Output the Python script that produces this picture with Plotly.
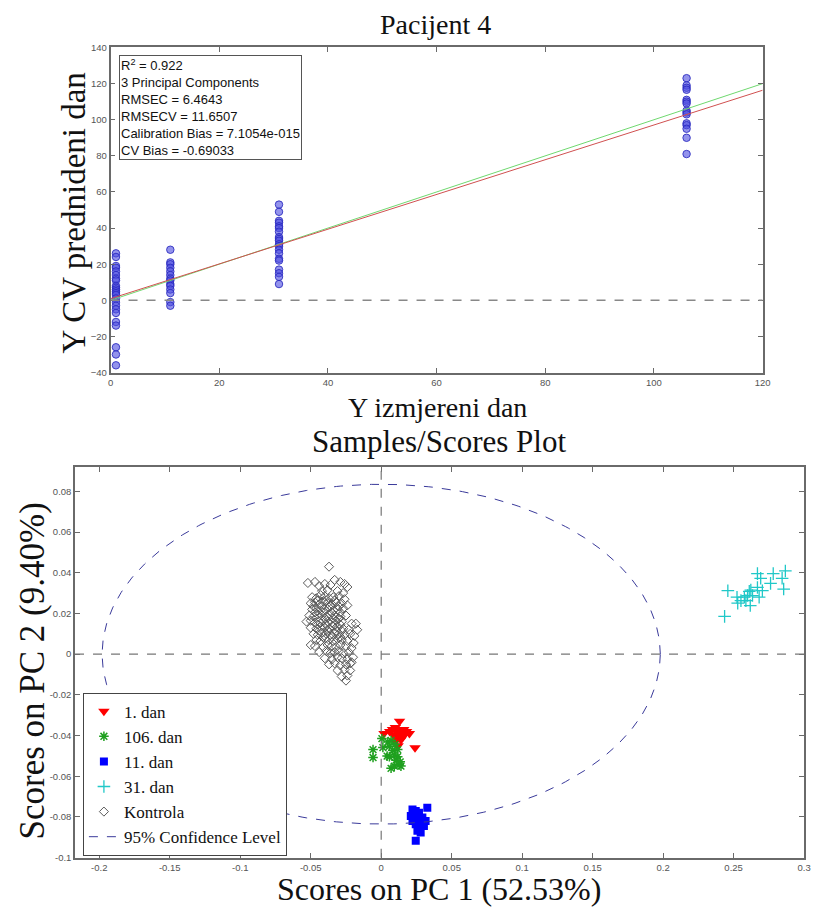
import numpy as np
import plotly.graph_objects as go

W, H = 820, 915

# ---------------- Top chart data (Pacijent 4) ----------------
measured_days = [1, 11, 31, 106]
cv_day_1 = [26, 24, 19, 18, 16, 14, 12, 11, 8, 7, 6, 5, 4, 3, 1, -1, -3, -5, -7, -12, -14, -26, -30, -36]
cv_day_11 = [28, 21, 20, 18, 16, 14, 12, 11, 9, 8, 6, 4, -1, -3]
cv_day_31 = [53, 49, 44, 43, 41, 40, 38, 35, 34, 33, 31, 30, 28, 26, 23, 22, 17, 15, 13, 9]
cv_day_106 = [123, 119, 117.7, 116.6, 111, 110, 109, 105, 104, 103, 98, 97, 95, 90, 81]
fit_intercept = 0.9
fit_slope = 0.962
stats_lines = ["R<sup>2</sup> = 0.922", "3 Principal Components", "RMSEC = 6.4643",
               "RMSECV = 11.6507", "Calibration Bias = 7.1054e-015", "CV Bias = -0.69033"]
top_xticks = [0, 20, 40, 60, 80, 100, 120]
top_yticks = [-40, -20, 0, 20, 40, 60, 80, 100, 120, 140]

# ---------------- Bottom chart data (Samples/Scores) ----------------
dan1_x = [0.013, 0.002, 0.006, 0.008, 0.010, 0.012, 0.014, 0.016, 0.018, 0.020, 0.009, 0.011, 0.013, 0.015, 0.017, 0.010, 0.012, 0.024, 0.012, 0.014]
dan1_y = [-0.033, -0.039, -0.038, -0.037, -0.036, -0.037, -0.038, -0.037, -0.038, -0.039, -0.040, -0.041, -0.040, -0.041, -0.039, -0.043, -0.045, -0.046, -0.039, -0.042]

dan106_x = [-0.0058, -0.0058, 0.0005, 0.0012, 0.0047, 0.0058, 0.0070, 0.0082, 0.0093, 0.0117, 0.0105, 0.0070, 0.0093, 0.0128, 0.0140, 0.0117, 0.0098, 0.0042, 0.0058, 0.0135]
dan106_y = [-0.0469, -0.0508, -0.0415, -0.0459, -0.0432, -0.0453, -0.0424, -0.0472, -0.0496, -0.0504, -0.0521, -0.0561, -0.0550, -0.0545, -0.0550, -0.0469, -0.0443, -0.0501, -0.0504, -0.0529]

dan11_x = [0.0327, 0.0222, 0.0245, 0.0268, 0.0210, 0.0233, 0.0257, 0.0292, 0.0315, 0.0245, 0.0268, 0.0303, 0.0257, 0.0280, 0.0245, 0.0233, 0.0280, 0.0222]
dan11_y = [-0.0755, -0.0763, -0.0771, -0.0779, -0.0795, -0.0803, -0.0812, -0.0803, -0.0820, -0.0836, -0.0844, -0.0844, -0.0868, -0.0876, -0.0917, -0.0787, -0.0828, -0.0820]

dan31_x = [0.2436, 0.2459, 0.2524, 0.2529, 0.2552, 0.2576, 0.2587, 0.2599, 0.2611, 0.2622, 0.2634, 0.2618, 0.2669, 0.2669, 0.2692, 0.2704, 0.2681, 0.2762, 0.2781, 0.2844, 0.2867, 0.2855]
dan31_y = [0.0186, 0.0312, 0.0280, 0.0251, 0.0263, 0.0280, 0.0263, 0.0288, 0.0309, 0.0315, 0.0288, 0.0239, 0.0328, 0.0396, 0.0373, 0.0312, 0.0280, 0.0348, 0.0396, 0.0373, 0.0409, 0.0320]

kontrola_x = [
    -0.037, -0.052, -0.047, -0.044, -0.040, -0.036, -0.033, -0.029, -0.026, -0.024, -0.042, -0.038, -0.031, -0.027,
    -0.049, -0.046, -0.043, -0.040, -0.037, -0.034, -0.030, -0.026,
    -0.050, -0.047, -0.044, -0.041, -0.038, -0.035, -0.032, -0.028, -0.024,
    -0.049, -0.046, -0.043, -0.040, -0.037, -0.034, -0.031, -0.027,
    -0.051, -0.048, -0.045, -0.042, -0.039, -0.036, -0.033, -0.029, -0.025,
    -0.053, -0.050, -0.047, -0.044, -0.041, -0.038, -0.035, -0.032, -0.028, -0.021,
    -0.050, -0.046, -0.043, -0.040, -0.037, -0.034, -0.031, -0.027, -0.023,
    -0.048, -0.045, -0.042, -0.039, -0.036, -0.033, -0.030, -0.026, -0.022,
    -0.046, -0.043, -0.040, -0.037, -0.034, -0.031, -0.028, -0.024,
    -0.050, -0.047, -0.041, -0.038, -0.035, -0.032, -0.029, -0.025, -0.021,
    -0.044, -0.039, -0.036, -0.033, -0.030, -0.027, -0.023,
    -0.040, -0.035, -0.031, -0.028, -0.024, -0.020,
    -0.037, -0.033, -0.029, -0.025, -0.022,
    -0.031, -0.026, -0.028, -0.024, -0.025,
    -0.045, -0.039, -0.033, -0.048, -0.042, -0.036, -0.030, -0.047, -0.041, -0.035, -0.029, -0.046, -0.040,
    -0.034, -0.030, -0.045, -0.039, -0.033, -0.029, -0.044, -0.038, -0.032, -0.028, -0.041, -0.035, -0.029,
    -0.018, -0.017, -0.019, -0.021, -0.022, -0.0195,
]
kontrola_y = [
    0.043, 0.035, 0.0355, 0.0335, 0.0345, 0.034, 0.0365, 0.0355, 0.0345, 0.033, 0.031, 0.0315, 0.031, 0.030,
    0.028, 0.0275, 0.029, 0.0285, 0.0275, 0.028, 0.0285, 0.027,
    0.025, 0.0255, 0.0245, 0.026, 0.025, 0.0245, 0.0255, 0.025, 0.024,
    0.022, 0.0225, 0.0215, 0.022, 0.023, 0.0215, 0.022, 0.0225,
    0.019, 0.0185, 0.0195, 0.019, 0.0185, 0.0195, 0.019, 0.0185, 0.019,
    0.016, 0.0165, 0.0155, 0.016, 0.0165, 0.016, 0.0155, 0.0165, 0.016, 0.015,
    0.013, 0.0125, 0.0135, 0.013, 0.0125, 0.0135, 0.013, 0.0125, 0.012,
    0.010, 0.0095, 0.0105, 0.010, 0.0095, 0.0105, 0.010, 0.0095, 0.010,
    0.007, 0.0065, 0.0075, 0.007, 0.0065, 0.0075, 0.007, 0.0065,
    0.0045, 0.004, 0.0035, 0.0045, 0.004, 0.0035, 0.0045, 0.004, 0.003,
    0.001, 0.0015, 0.0005, 0.001, 0.0015, 0.0005, 0.001,
    -0.002, -0.0025, -0.0015, -0.002, -0.0025, -0.0015,
    -0.005, -0.0045, -0.0055, -0.005, -0.0045,
    -0.008, -0.0075, -0.011, -0.0105, -0.013,
    0.0265, 0.0265, 0.0265, 0.0235, 0.0235, 0.0235, 0.0235, 0.0205, 0.0205, 0.0205, 0.0205, 0.0175, 0.0175,
    0.0175, 0.0175, 0.0145, 0.0145, 0.0145, 0.0145, 0.0115, 0.0115, 0.0115, 0.0115, 0.0085, 0.0085, 0.0085,
    0.015, 0.012, 0.009, -0.004, -0.008, 0.0055,
]
conf_semi_x = 0.198
conf_semi_y = 0.0835

bot_xticks = [-0.2, -0.15, -0.1, -0.05, 0, 0.05, 0.1, 0.15, 0.2, 0.25, 0.3]
bot_xlabels = ["-0.2", "-0.15", "-0.1", "-0.05", "0", "0.05", "0.1", "0.15", "0.2", "0.25", "0.3"]
bot_yticks = [-0.1, -0.08, -0.06, -0.04, -0.02, 0, 0.02, 0.04, 0.06, 0.08]
bot_ylabels = ["-0.1", "-0.08", "-0.06", "-0.04", "-0.02", "0", "0.02", "0.04", "0.06", "0.08"]
bot_xrange = [-0.2172, 0.3]
bot_yrange = [-0.1, 0.0918]

# ---------------- Figure ----------------
SERIF = "Liberation Serif, Times New Roman, serif"
SANS = "Liberation Sans, Arial, sans-serif"
AXC = "#6a6a6a"
TICKC = "#555555"


def px_x(p):
    return p / W


def px_y(p):
    return 1 - p / H


fig = go.Figure()

# --- top chart ---
circle_style = dict(color="rgba(80,80,225,0.62)", size=7.5, line=dict(color="rgba(40,40,190,0.85)", width=1))
for day, vals in zip(measured_days, [cv_day_1, cv_day_11, cv_day_31, cv_day_106]):
    fig.add_trace(go.Scatter(x=[day] * len(vals), y=vals, mode="markers", marker=circle_style,
                             showlegend=False, xaxis="x", yaxis="y"))

line_x = np.array([top_xticks[0], top_xticks[-1]], dtype=float)
fig.add_trace(go.Scatter(x=line_x, y=line_x, mode="lines", line=dict(color="#6fd86f", width=1),
                         showlegend=False, xaxis="x", yaxis="y"))
fig.add_trace(go.Scatter(x=line_x, y=fit_intercept + fit_slope * line_x, mode="lines",
                         line=dict(color="#d05050", width=1), showlegend=False, xaxis="x", yaxis="y"))

# --- bottom chart ---
t = np.linspace(0, 2 * np.pi, 400)
fig.add_trace(go.Scatter(x=dan1_x, y=dan1_y, mode="markers", name="1. dan",
                         marker=dict(symbol="triangle-down", color="#ff0000", size=10, line=dict(width=0)),
                         xaxis="x2", yaxis="y2"))
fig.add_trace(go.Scatter(x=dan106_x, y=dan106_y, mode="markers", name="106. dan",
                         marker=dict(symbol="asterisk-open", color="#1fa01f", size=8,
                                     line=dict(color="#1fa01f", width=1.5)),
                         xaxis="x2", yaxis="y2"))
fig.add_trace(go.Scatter(x=dan11_x, y=dan11_y, mode="markers", name="11. dan",
                         marker=dict(symbol="square", color="#0000ff", size=8, line=dict(width=0)),
                         xaxis="x2", yaxis="y2"))
fig.add_trace(go.Scatter(x=dan31_x, y=dan31_y, mode="markers", name="31. dan",
                         marker=dict(symbol="cross-thin-open", color="#20c8c8", size=9,
                                     line=dict(color="#20c8c8", width=1.3)),
                         xaxis="x2", yaxis="y2"))
fig.add_trace(go.Scatter(x=kontrola_x, y=kontrola_y, mode="markers", name="Kontrola",
                         marker=dict(symbol="diamond-open", color="#5a5a5a", size=7,
                                     line=dict(color="#5a5a5a", width=1)),
                         xaxis="x2", yaxis="y2"))
fig.add_trace(go.Scatter(x=conf_semi_x * np.cos(t), y=conf_semi_y * np.sin(t), mode="lines",
                         name="95% Confidence Level",
                         line=dict(color="#3a3a9a", width=1, dash="dash"),
                         xaxis="x2", yaxis="y2"))

axis_common = dict(showgrid=False, zeroline=False, showline=True, linecolor=AXC, linewidth=1.5,
                   mirror="ticks", ticks="inside", ticklen=5, tickcolor=AXC,
                   tickfont=dict(family=SANS, size=9.5, color=TICKC))

fig.update_layout(
    width=W, height=H,
    margin=dict(l=0, r=0, t=0, b=0),
    paper_bgcolor="white", plot_bgcolor="white",
    xaxis=dict(domain=[px_x(109), px_x(770)], range=[top_xticks[0], top_xticks[-1]],
               tickvals=top_xticks, anchor="y", **axis_common),
    yaxis=dict(domain=[px_y(371), px_y(42)], range=[top_yticks[0], top_yticks[-1]],
               tickvals=top_yticks, anchor="x", **axis_common),
    xaxis2=dict(domain=[px_x(73), px_x(812)], range=bot_xrange,
                tickvals=bot_xticks, ticktext=bot_xlabels, anchor="y2", **axis_common),
    yaxis2=dict(domain=[px_y(862), px_y(467)], range=bot_yrange,
                tickvals=bot_yticks, ticktext=bot_ylabels, anchor="x2", **axis_common),
    showlegend=True,
    legend=dict(x=px_x(81), y=px_y(695), xanchor="left", yanchor="top",
                bgcolor="white", bordercolor="#444444", borderwidth=1,
                font=dict(family=SERIF, size=17, color="#111111"),
                tracegroupgap=0, itemwidth=30),
)

# zero reference lines
fig.add_shape(type="line", xref="x", yref="y", x0=top_xticks[0], x1=top_xticks[-1], y0=0, y1=0,
              line=dict(color="#888888", width=1.5, dash="dash"))
fig.add_shape(type="line", xref="x2", yref="y2", x0=bot_xrange[0], x1=bot_xrange[1], y0=0, y1=0,
              line=dict(color="#777777", width=1.2, dash="dash"))
fig.add_shape(type="line", xref="x2", yref="y2", x0=0, x1=0, y0=bot_yrange[0], y1=bot_yrange[1],
              line=dict(color="#777777", width=1.2, dash="dash"))

# statistics box
fig.add_annotation(xref="paper", yref="paper", x=px_x(118), y=px_y(50), xanchor="left", yanchor="top",
                   text="<br>".join(stats_lines), align="left", showarrow=False,
                   font=dict(family=SANS, size=13, color="#111111"),
                   bordercolor="#555555", borderwidth=1, borderpad=1, bgcolor="white")

titles = [
    ("Pacijent 4", 438, 19, 28, 0),
    ("Y izmjereni dan", 440, 406, 28, 0),
    ("Y CV prednideni dan", 72, 210, 33, -90),
    ("Samples/Scores Plot", 442, 441, 31, 0),
    ("Scores on PC 1 (52.53%)", 442, 894, 32, 0),
    ("Scores on PC 2 (9.40%)", 30, 673, 35, -90),
]
for txt, cx, cy, fs, ang in titles:
    fig.add_annotation(xref="paper", yref="paper", x=px_x(cx), y=px_y(cy), xanchor="center",
                       yanchor="middle", text=txt, showarrow=False, textangle=ang,
                       font=dict(family=SERIF, size=fs, color="#111111"))

# remove the browser's default page margin so the figure fills the window exactly
fig.write_html("out.html",
               config={"displayModeBar": False},
               post_script="document.body.style.margin='0';document.body.style.overflow='hidden';")
